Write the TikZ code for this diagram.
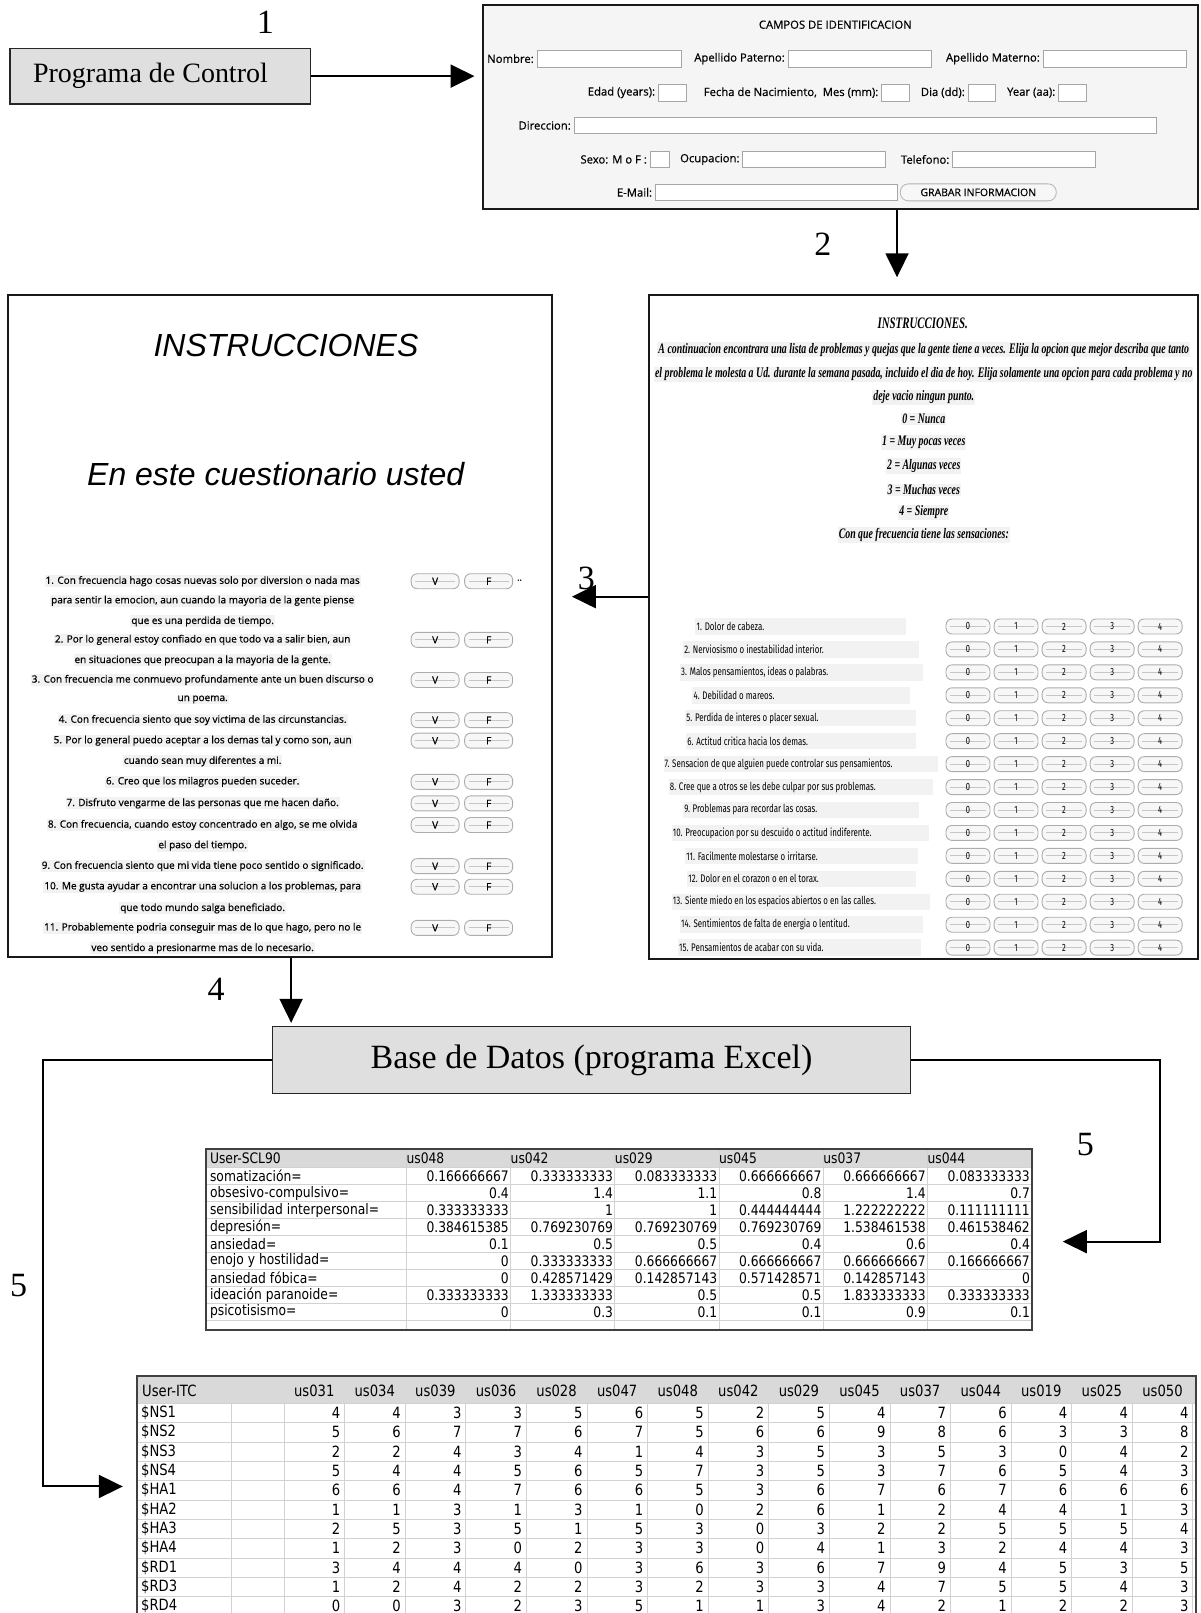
\documentclass[tikz,border=0pt]{standalone}
\usepackage{fontspec}
\usepackage{graphicx}
\setmainfont{Liberation Serif}
\newfontfamily\helv{Liberation Sans}
\newfontfamily\uisans[FakeBold=0.6]{Open Sans}
\newfontfamily\narrowsans[FakeStretch=0.72]{Fira Sans}
\newfontfamily\narrowserif[FakeStretch=0.68]{Liberation Serif}
\newfontfamily\cellfont[FakeStretch=0.85]{DejaVu Sans}
\usetikzlibrary{arrows.meta, positioning, fit, calc}

\begin{document}
\begin{tikzpicture}[x=1.02914pt, y=-1.02914pt, >={Triangle[length=24pt,width=23pt]}]

% ------------------- estilos -------------------
\tikzstyle{box} = [draw=black!85, line width=1.6pt, fill=gray!25, inner sep=0]
\tikzstyle{panel} = [draw=black!90, line width=2pt, inner sep=0]
\tikzstyle{flow} = [->, line width=2pt]
\tikzstyle{num} = [inner sep=0, font=\fontsize{34}{34}\selectfont]
\tikzstyle{field} = [draw=gray!70, fill=white, line width=0.6pt]
\tikzstyle{flabel} = [anchor=east, inner sep=1pt, font=\uisans\fontsize{11.3}{11.3}\selectfont]
\tikzstyle{qbtn} = [draw=gray!65, line width=0.9pt, rounded corners=6pt, fill=gray!6, minimum width=44pt, minimum height=15pt, inner sep=0, font=\narrowsans\fontsize{10.5}{10.5}\selectfont,
  path picture={\draw[gray!45] ([xshift=4pt]path picture bounding box.west) -- ([xshift=-4pt]path picture bounding box.east);}]
\tikzstyle{vfbtn} = [qbtn, minimum width=48pt, font=\uisans\fontsize{10}{10}\selectfont]
\tikzstyle{savebtn} = [draw=gray!60, line width=0.8pt, rounded corners=8pt, fill=gray!6, minimum width=156pt, minimum height=17pt, inner sep=0, font=\uisans\fontsize{10.5}{10.5}\selectfont]
\tikzstyle{qline} = [fill=gray!10, inner sep=1pt, font=\uisans\fontsize{10}{10}\selectfont]
\tikzstyle{instr} = [fill=gray!10, inner sep=1pt, font=\narrowserif\bfseries\itshape\fontsize{14.5}{14.5}\selectfont]
\tikzstyle{cell} = [anchor=east, inner sep=0, font=\cellfont\fontsize{14.5}{14.5}\selectfont]
\tikzstyle{rowhead} = [anchor=west, inner sep=0, font=\cellfont\fontsize{14.5}{14.5}\selectfont]
\tikzstyle{grid} = [gray!35, line width=0.6pt]

\useasboundingbox (0,0) rectangle (1167,1568);

% ------------------- 1: Programa de Control -------------------
\node[box, fit={(10,47) (302,101)}] (ctrl) {};
\node[font=\fontsize{28}{28}\selectfont] (ctrltext) at ([xshift=-10pt]ctrl.center) {Programa de Control};
\node[num] (n1) at (258,22) {1};

% ------------------- Campos de identificacion -------------------
\fill[gray!8] (470,5) rectangle (1165,203);
\begin{scope}
\clip (470,5) rectangle (1165,203);
\node[font=\uisans\fontsize{11.3}{11.3}\selectfont] (idtitle) at (812,24) {CAMPOS DE IDENTIFICACION};
\foreach \xa/\xb/\yy in {522/662/57, 766/905/57, 1014/1153/57, 640/667/90, 857/884/90, 941/968/90, 1029/1056/90,
  558/1124/122, 632/651/155, 722/861/155, 926/1065/155, 637/872/187}
  \draw[field] (\xa,\yy-8) rectangle (\xb,\yy+8);
\foreach \xx/\yy/\txt in {520/57/Nombre:, 764/57/Apellido Paterno:, 1012/57/Apellido Materno:,
  638/90/Edad (years):, 855/90/{Fecha de Nacimiento,\ \ Mes (mm):}, 939/90/Dia (dd):, 1027/90/Year (aa):,
  556/122/Direccion:, 630/155/Sexo: M o F :, 720/155/Ocupacion:, 924/155/Telefono:, 635/187/E-Mail:}
  \node[flabel] at (\xx,\yy) {\txt};
\node[savebtn] (grabar) at (951,187) {GRABAR INFORMACION};
\end{scope}
\node[panel, fit={(470,5) (1165,203)}] (ident) {};

% ------------------- cuestionario SCL90 (derecha) -------------------
\begin{scope}
\clip (631,287) rectangle (1165,932);
\foreach \yy/\txt in {340/{A continuacion encontrara una lista de problemas y quejas que la gente tiene a veces. Elija la opcion que mejor describa que tanto},
  364/{el problema le molesta a Ud. durante la semana pasada, incluido el dia de hoy. Elija solamente una opcion para cada problema y no},
  386/{deje vacio ningun punto.}, 407/{0 = Nunca}, 430/{1 = Muy pocas veces}, 453/{2 = Algunas veces},
  476/{3 = Muchas veces}, 498/{4 = Siempre}, 520/{Con que frecuencia tiene las sensaciones:}}
  \node[instr] at (898,\yy) {\txt};
\node[instr, fill=none, font=\narrowserif\bfseries\itshape\fontsize{16}{16}\selectfont] (scltitle) at (897,314) {INSTRUCCIONES.};
\foreach \xs/\xe/\txt [count=\i] in {676/881/{1. Dolor de cabeza.}, 664/893/{2. Nerviosismo o inestabilidad interior.},
  661/897/{3. Malos pensamientos, ideas o palabras.}, 673/885/{4. Debilidad o mareos.},
  666/890/{5. Perdida de interes o placer sexual.}, 667/890/{6. Actitud critica hacia los demas.},
  645/912/{7. Sensacion de que alguien puede controlar sus pensamientos.}, 650/907/{8. Cree que a otros se les debe culpar por sus problemas.},
  664/893/{9. Problemas para recordar las cosas.}, 653/903/{10. Preocupacion por su descuido o actitud indiferente.},
  666/892/{11. Facilmente molestarse o irritarse.}, 668/890/{12. Dolor en el corazon o en el torax.},
  653/904/{13. Siente miedo en los espacios abiertos o en las calles.}, 661/897/{14. Sentimientos de falta de energia o lentitud.},
  659/895/{15. Pensamientos de acabar con su vida.}} {
  \pgfmathsetmacro{\yy}{609+22.3*(\i-1)}
  \fill[gray!10] (\xs,\yy-8) rectangle (\xe,\yy+8);
  \node[anchor=west, inner sep=0, font=\narrowsans\fontsize{11}{11}\selectfont] at (\xs+1,\yy) {\txt};
  \foreach \v in {0,...,4} \node[qbtn] at (941+46.7*\v,\yy) {\v};
}
\end{scope}
\node[panel, fit={(631,287) (1165,932)}] (sclq) {};

% ------------------- cuestionario ITC (izquierda) -------------------
\node[panel, fit={(8,287) (537,930)}] (itcq) {};
\node[font=\helv\itshape\fontsize{32}{32}\selectfont] (itctitle) at (278,336) {INSTRUCCIONES};
\node[font=\helv\itshape\fontsize{32}{32}\selectfont] (itcintro) at (268,461) {En este cuestionario usted};
\foreach \yy/\txt in {565/{1. Con frecuencia hago cosas nuevas solo por diversion o nada mas},
  584/{para sentir la emocion, aun cuando la mayoria de la gente piense}, 604/{que es una perdida de tiempo.},
  622/{2. Por lo general estoy confiado en que todo va a salir bien, aun}, 642/{en situaciones que preocupan a la mayoria de la gente.},
  661/{3. Con frecuencia me conmuevo profundamente ante un buen discurso o}, 680/{un poema.},
  700/{4. Con frecuencia siento que soy victima de las circunstancias.},
  720/{5. Por lo general puedo aceptar a los demas tal y como son, aun}, 740/{cuando sean muy diferentes a mi.},
  760/{6. Creo que los milagros pueden suceder.}, 781/{7. Disfruto vengarme de las personas que me hacen daño.},
  802/{8. Con frecuencia, cuando estoy concentrado en algo, se me olvida}, 822/{el paso del tiempo.},
  842/{9. Con frecuencia siento que mi vida tiene poco sentido o significado.},
  862/{10. Me gusta ayudar a encontrar una solucion a los problemas, para}, 883/{que todo mundo salga beneficiado.},
  902/{11. Probablemente podria conseguir mas de lo que hago, pero no le}, 922/{veo sentido a presionarme mas de lo necesario.}}
  \node[qline] at (197,\yy) {\txt};
\foreach \yy in {565,622,661,700,720,760,781,802,842,862,902} {
  \node[vfbtn] at (423,\yy) {V};
  \node[vfbtn] at (475,\yy) {F};
}
\node[font=\uisans\fontsize{9}{9}\selectfont, inner sep=0] (dots) at (505,564) {..};

% ------------------- Base de Datos -------------------
\node[box, fit={(265,998) (885,1063)}] (db) {};
\node[font=\fontsize{34}{34}\selectfont] (dbtext) at (db.center) {Base de Datos (programa Excel)};

% ------------------- tabla SCL90 -------------------
\begin{scope}
\clip (200,1117) rectangle (1003,1293);
\fill[white] (200,1117) rectangle (1003,1293);
\fill[gray!30] (200,1117) rectangle (1003,1135);
\foreach \k in {0,...,9} \draw[grid] (200,1135+16.5*\k) -- (1003,1135+16.5*\k);
\foreach \xx in {395,496.3,597.6,698.9,800.2,901.5} \draw[grid] (\xx,1117) -- (\xx,1293);
\node[rowhead] at (204,1126) {User-SCL90};
\foreach \h [count=\j] in {us048,us042,us029,us045,us037,us044}
  \node[rowhead] at (293.7+101.3*\j,1126) {\h};
\foreach \lab/\vals [count=\r] in {
  somatización=/{0.166666667,0.333333333,0.083333333,0.666666667,0.666666667,0.083333333},
  obsesivo-compulsivo=/{0.4,1.4,1.1,0.8,1.4,0.7},
  sensibilidad interpersonal=/{0.333333333,1,1,0.444444444,1.222222222,0.111111111},
  depresión=/{0.384615385,0.769230769,0.769230769,0.769230769,1.538461538,0.461538462},
  ansiedad=/{0.1,0.5,0.5,0.4,0.6,0.4},
  enojo y hostilidad=/{0,0.333333333,0.666666667,0.666666667,0.666666667,0.166666667},
  ansiedad fóbica=/{0,0.428571429,0.142857143,0.571428571,0.142857143,0},
  ideación paranoide=/{0.333333333,1.333333333,0.5,0.5,1.833333333,0.333333333},
  psicotisismo=/{0,0.3,0.1,0.1,0.9,0.1}} {
  \node[rowhead] at (204,1126.75+16.5*\r) {\lab};
  \foreach \v [count=\j] in \vals
    \node[cell] at (393.5+101.3*\j,1126.75+16.5*\r) {\v};
}
\end{scope}
\node[draw=black!75, line width=2pt, inner sep=0, fit={(200,1117) (1003,1293)}] (tabscl) {};

% ------------------- tabla ITC -------------------
\begin{scope}
\clip (133,1338) rectangle (1163,1568);
\fill[white] (133,1338) rectangle (1163,1568);
\fill[gray!30] (133,1338) rectangle (1163,1364);
\foreach \k in {0,...,11} \draw[grid] (133,1364+18.8*\k) -- (1163,1364+18.8*\k);
\foreach \xx in {225,276} \draw[grid] (\xx,1364) -- (\xx,1568);
\foreach \j in {1,...,15} \draw[grid] (276+58.9*\j,1364) -- (276+58.9*\j,1568);
\node[rowhead, font=\cellfont\fontsize{15.5}{15.5}\selectfont] at (138,1352) {User-ITC};
\foreach \h [count=\j] in {us031,us034,us039,us036,us028,us047,us048,us042,us029,us045,us037,us044,us019,us025,us050}
  \node[inner sep=0, font=\cellfont\fontsize{15.5}{15.5}\selectfont] at (246.55+58.9*\j,1352) {\h};
\foreach \lab/\vals [count=\r] in {
  \$NS1/{4,4,3,3,5,6,5,2,5,4,7,6,4,4,4}, \$NS2/{5,6,7,7,6,7,5,6,6,9,8,6,3,3,8},
  \$NS3/{2,2,4,3,4,1,4,3,5,3,5,3,0,4,2}, \$NS4/{5,4,4,5,6,5,7,3,5,3,7,6,5,4,3},
  \$HA1/{6,6,4,7,6,6,5,3,6,7,6,7,6,6,6}, \$HA2/{1,1,3,1,3,1,0,2,6,1,2,4,4,1,3},
  \$HA3/{2,5,3,5,1,5,3,0,3,2,2,5,5,5,4}, \$HA4/{1,2,3,0,2,3,3,0,4,1,3,2,4,4,3},
  \$RD1/{3,4,4,4,0,3,6,3,6,7,9,4,5,3,5}, \$RD3/{1,2,4,2,2,3,2,3,3,4,7,5,5,4,3},
  \$RD4/{0,0,3,2,3,5,1,1,3,4,2,1,2,2,3}} {
  \node[rowhead, font=\cellfont\fontsize{15.5}{15.5}\selectfont] at (137,1354.6+18.8*\r) {\lab};
  \foreach \v [count=\j] in \vals
    \node[cell, font=\cellfont\fontsize{15.5}{15.5}\selectfont] at (272+58.9*\j,1354.6+18.8*\r) {\v};
}
\end{scope}
\node[draw=black!75, line width=2pt, inner sep=0, fit={(133,1338) (1163,1580)}] (tabitc) {};

% ------------------- flechas -------------------
\coordinate (a2x) at (872,0);
\coordinate (a3y) at (0,580);
\coordinate (a4x) at (283,0);
\coordinate (turnR) at (1128,1207);
\coordinate (turnL) at (42,1445);

\draw[flow, shorten >=8pt] (ctrl.east) -- (ctrl.east -| ident.west);
\draw[flow, shorten >=17pt] (ident.south -| a2x) -- (sclq.north -| a2x);
\draw[flow, shorten >=18.5pt] (sclq.west |- a3y) -- (itcq.east |- a3y);
\draw[flow, shorten >=3pt] (itcq.south -| a4x) -- (db.north -| a4x);
\draw[flow, shorten >=30pt] (db.east) -| (turnR) -- (turnR -| tabscl.east);
\draw[flow, shorten >=13pt] (db.west) -| (turnL) -- (turnL -| tabitc.west);

\node[num] (n2) at (800,237) {2};
\node[num] (n3) at (570,562) {3};
\node[num] (n4) at (210,962) {4};
\node[num] (n5a) at (1055,1113) {5};
\node[num] (n5b) at (18,1250) {5};

\end{tikzpicture}
\end{document}
